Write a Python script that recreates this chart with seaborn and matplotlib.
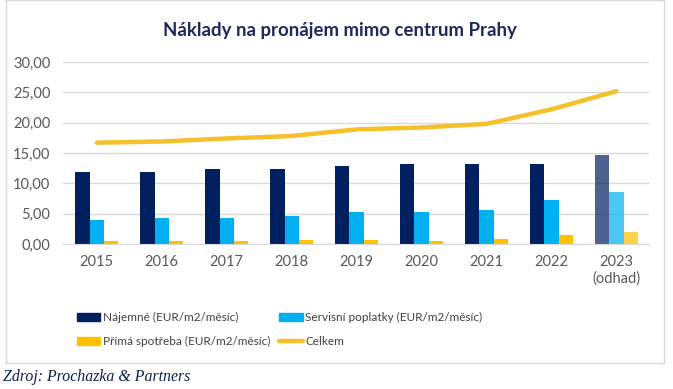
import matplotlib
matplotlib.use("Agg")
import matplotlib.pyplot as plt
import matplotlib.patches as mpatches
from matplotlib.lines import Line2D
import seaborn as sns
import pandas as pd

years = ["2015", "2016", "2017", "2018", "2019", "2020", "2021", "2022", "2023\n(odhad)"]
najemne = [11.9, 11.9, 12.4, 12.4, 12.9, 13.2, 13.2, 13.2, 14.7]
servisni = [4.0, 4.3, 4.3, 4.6, 5.3, 5.3, 5.6, 7.2, 8.6]
prima = [0.5, 0.5, 0.5, 0.7, 0.7, 0.5, 0.8, 1.5, 2.0]
celkem = [16.7, 16.9, 17.4, 17.8, 18.9, 19.2, 19.8, 22.2, 25.2]
series_names = ["Nájemné (EUR/m2/měsíc)", "Servisní poplatky (EUR/m2/měsíc)", "Přímá spotřeba (EUR/m2/měsíc)"]
line_name = "Celkem"
yticks = [0, 5, 10, 15, 20, 25, 30]

colors = ["#002060", "#00b0f0", "#ffc000"]
line_color = "#f5c02a"

rows = []
for name, vals in zip(series_names, [najemne, servisni, prima]):
    for y, v in zip(years, vals):
        rows.append({"rok": y, "hodnota": v, "serie": name})
df = pd.DataFrame(rows)
df_line = pd.DataFrame({"rok": years, "hodnota": celkem})

sns.set_style("white")
plt.rcParams["font.family"] = ["Lato", "DejaVu Sans"]

fig = plt.figure(figsize=(6.73, 3.89), dpi=100)
ax = fig.add_axes([0.0936, 0.3728, 0.8707, 0.4678])

sns.barplot(data=df, x="rok", y="hodnota", hue="serie", order=years,
            hue_order=series_names, palette=colors, width=0.66,
            saturation=1, ax=ax, legend=False, linewidth=0, edgecolor="none")
for cont in ax.containers:
    cont.patches[-1].set_alpha(0.7)

sns.lineplot(data=df_line, x="rok", y="hodnota", color=line_color,
             linewidth=3.2, ax=ax, sort=False, legend=False)

ax.set_xlim(-0.52, 8.5)
ax.set_ylim(0, 30)
ax.set_yticks(yticks)
ax.set_yticklabels([f"{t:.2f}".replace(".", ",") for t in yticks])
ax.grid(axis="y", color="#d9d9d9", linewidth=1)
ax.set_axisbelow(True)
for s in ["top", "right", "left"]:
    ax.spines[s].set_visible(False)
ax.spines["bottom"].set_color("#d9d9d9")
ax.tick_params(axis="both", length=0, labelsize=10.5, colors="#595959", pad=8)
ax.tick_params(axis="y", pad=9)
ax.set_xlabel("")
ax.set_ylabel("")

fig.text(0.505, 0.922, "Náklady na pronájem mimo centrum Prahy", ha="center", va="center",
         fontsize=13.4, fontweight="bold", color="#1f2a5c")

handles = [
    mpatches.Patch(color=colors[0], label=series_names[0]),
    mpatches.Patch(color=colors[2], label=series_names[2]),
    mpatches.Patch(color=colors[1], label=series_names[1]),
    Line2D([0], [0], color=line_color, linewidth=3.2, label=line_name),
]
fig.legend(handles=handles, ncol=2, loc="center left", bbox_to_anchor=(0.098, 0.153),
           frameon=False, fontsize=8.5, labelcolor="#404040", handlelength=2.0,
           handleheight=0.65, handletextpad=0.2, columnspacing=0.8, labelspacing=1.05)

border = mpatches.Rectangle((0.009, 0.068), 0.977, 0.932, transform=fig.transFigure,
                            fill=False, edgecolor="#d9d9d9", linewidth=1)
fig.add_artist(border)

fig.text(0.004, 0.03, "Zdroj: Prochazka & Partners", ha="left", va="center",
         fontsize=11.4, style="italic", family=["Liberation Serif", "DejaVu Serif"], color="#0f1f4f")

fig.savefig("out.png", dpi=100)
